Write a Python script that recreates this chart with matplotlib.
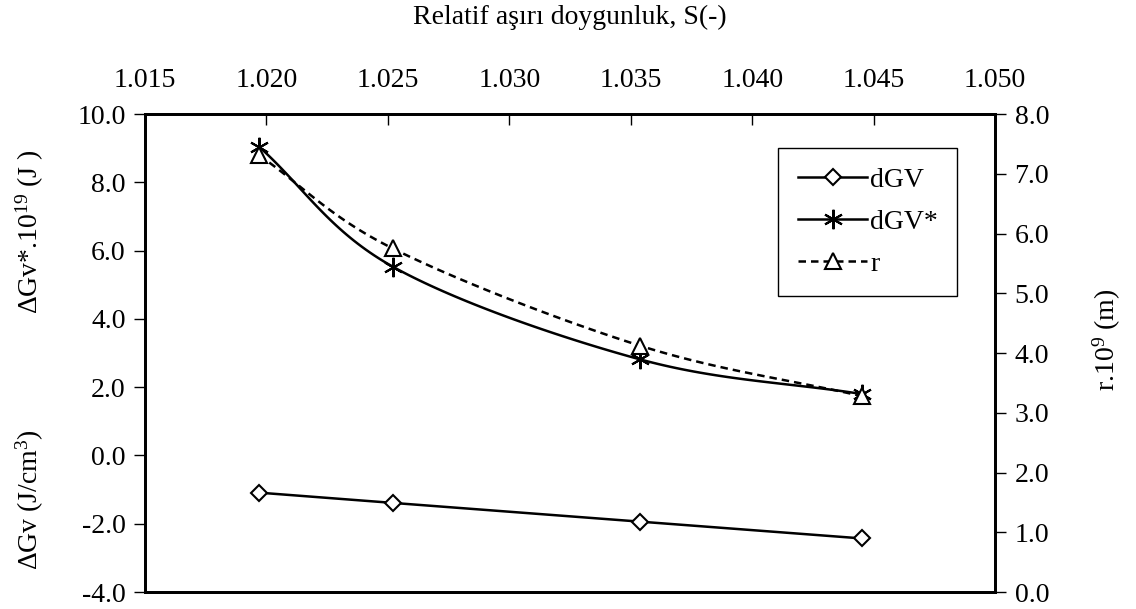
import numpy as np
from matplotlib import pyplot as plt
from matplotlib.ticker import MultipleLocator, FormatStrFormatter
from matplotlib.lines import Line2D

plt.rcParams['font.family'] = ['Liberation Serif', 'DejaVu Serif']
plt.rcParams['mathtext.default'] = 'regular'

# data
supersat = [1.0197, 1.0252, 1.0354, 1.0445]
dgv = [-1.09, -1.39, -1.94, -2.43]
dgv_star = [9.04, 5.53, 2.81, 1.80]
radius = [7.31, 5.75, 4.12, 3.28]


def smooth(xs, ys, n=40):
    """
    catmull-rom curve through the points, like excel's smoothed line.
    """
    p = np.column_stack([xs, ys]).astype(float)
    p = np.vstack([2 * p[0] - p[1], p, 2 * p[-1] - p[-2]])
    out = []
    t = np.linspace(0, 1, n)[:, None]
    for i in range(1, len(p) - 2):
        p0, p1, p2, p3 = p[i - 1], p[i], p[i + 1], p[i + 2]
        c = 0.5 * ((2 * p1) + (-p0 + p2) * t + (2 * p0 - 5 * p1 + 4 * p2 - p3) * t ** 2
                   + (-p0 + 3 * p1 - 3 * p2 + p3) * t ** 3)
        out.append(c)
    c = np.vstack(out)
    return c[:, 0], c[:, 1]


fig = plt.figure(figsize=(11.36, 6.09), dpi=100)
ax = fig.add_axes([0.1276, 0.0279, 0.7484, 0.7849])
ax2 = ax.twinx()

lw = 1.8
# dGV - straight line, diamonds
ax.plot(supersat, dgv, color='black', lw=lw, marker='D', markersize=8,
        markerfacecolor='white', markeredgecolor='black', markeredgewidth=1.5)

# dGV* - smoothed, asterisk
sx, sy = smooth(supersat, dgv_star)
ax.plot(sx, sy, color='black', lw=lw)
ax.plot(supersat, dgv_star, ls='none', marker=(6, 2, 0), markersize=14,
        markeredgecolor='black', markeredgewidth=1.5)

# r - smoothed dashed, triangles
rx, ry = smooth(supersat, radius)
ax2.plot(rx, ry, color='black', lw=lw, ls=(0, (3, 2)))
ax2.plot(supersat, radius, ls='none', marker='^', markersize=11,
         markerfacecolor='white', markeredgecolor='black', markeredgewidth=1.5)

ax.set_xlim(1.015, 1.050)
ax.set_ylim(-4, 10)
ax2.set_ylim(0, 8)

ax.xaxis.tick_top()
ax.xaxis.set_label_position('top')
ax.xaxis.set_major_locator(MultipleLocator(0.005))
ax.xaxis.set_major_formatter(FormatStrFormatter('%.3f'))
ax.yaxis.set_major_locator(MultipleLocator(2))
ax.yaxis.set_major_formatter(FormatStrFormatter('%.1f'))
ax2.yaxis.set_major_locator(MultipleLocator(1))
ax2.yaxis.set_major_formatter(FormatStrFormatter('%.1f'))

ax.tick_params(axis='x', direction='in', length=8, width=1, labelsize=20, pad=15)
ax.tick_params(axis='y', direction='out', length=8, width=1, labelsize=20, pad=6)
ax2.tick_params(axis='y', direction='out', length=8, width=1, labelsize=20, pad=6)

for a in (ax, ax2):
    for s in a.spines.values():
        s.set_linewidth(2)

ax.set_xlabel('Relatif aşırı doygunluk, S(-)', fontsize=20, labelpad=32)

fig.text(30 / 1136, 1 - 232 / 609, 'ΔGv*.10$^{19}$ (J )', rotation=90,
         ha='center', va='center', fontsize=20)
fig.text(30 / 1136, 1 - 500 / 609, 'ΔGv (J/cm$^{3}$)', rotation=90,
         ha='center', va='center', fontsize=20)
fig.text(1107 / 1136, 1 - 340 / 609, 'r.10$^{9}$ (m)', rotation=90,
         ha='center', va='center', fontsize=20)

handles = [
    Line2D([], [], color='black', lw=lw, marker='D', markersize=8,
           markerfacecolor='white', markeredgecolor='black', markeredgewidth=1.5),
    Line2D([], [], color='black', lw=lw, marker=(6, 2, 0), markersize=14,
           markeredgewidth=1.5),
    Line2D([], [], color='black', lw=lw, ls=(0, (3, 2)), marker='^', markersize=11,
           markerfacecolor='white', markeredgewidth=1.5),
]
leg = ax2.legend(handles, ['dGV', 'dGV*', 'r'], loc='upper left',
                 bbox_to_anchor=(0.745, 0.929), borderaxespad=0, fontsize=20,
                 frameon=True, fancybox=False, edgecolor='black', framealpha=1,
                 handlelength=2.5, handletextpad=0.1, labelspacing=0.6,
                 borderpad=0.7)
leg.get_frame().set_linewidth(1)

fig.savefig('out.png', dpi=100)
